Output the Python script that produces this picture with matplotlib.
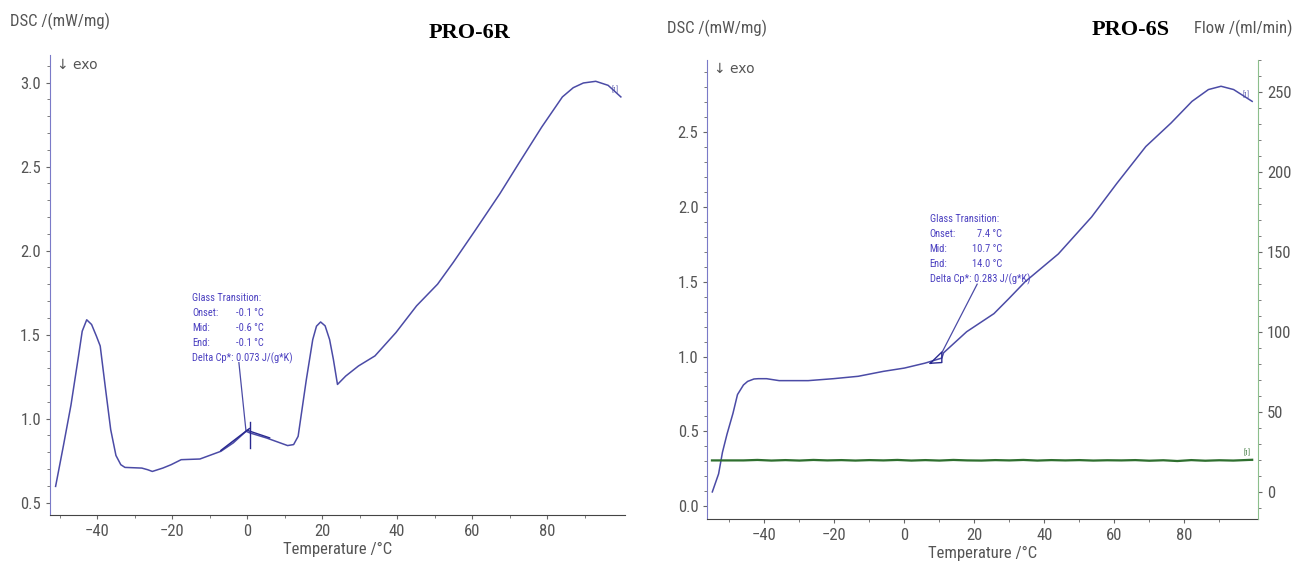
import numpy as np
import matplotlib
matplotlib.use('Agg')
import matplotlib.pyplot as plt
from matplotlib.ticker import FixedLocator, MultipleLocator
from matplotlib import font_manager

# pick a narrow sans font if one is installed
names = set(f.name for f in font_manager.fontManager.ttflist)
narrow = None
stretch = 'normal'
for cand in ['Liberation Sans Narrow', 'Roboto Condensed', 'Open Sans Condensed',
             'Noto Sans Condensed', 'DejaVu Sans Condensed']:
    if cand in names:
        narrow = cand
        break
if narrow is None:
    for f in font_manager.fontManager.ttflist:
        if f.name == 'DejaVu Sans' and 'condensed' in str(f.stretch):
            narrow = 'DejaVu Sans'
            stretch = 'condensed'
            break
if narrow is None:
    narrow = 'Liberation Sans'
plt.rcParams['font.family'] = [narrow, 'Liberation Sans', 'DejaVu Sans']
plt.rcParams['font.stretch'] = stretch
fs = 12 if narrow != 'Liberation Sans' else 11

# PRO-6R DSC curve (temperature degC, DSC mW/mg)
temp_6r = [-51.1, -49.0, -47.0, -45.0, -44.0, -42.8, -41.5, -40.2, -39.2, -37.8, -36.4,
           -35.0, -33.7, -32.6, -28.1, -26.5, -25.3, -22.5, -20.3, -17.6, -12.6,
           -7.0, -3.7, -0.3, 0.8, 5.2, 10.8, 12.4, 13.6, 15.8, 17.5, 18.5, 19.6,
           20.8, 22.0, 23.0, 24.1, 26.3, 29.7, 34.1, 39.7, 45.2, 50.8, 55.0, 60.8,
           67.4, 72.4, 78.6, 84.1, 87.0, 89.7, 93.0, 96.3, 99.7]
dsc_6r = [0.596, 0.84, 1.08, 1.37, 1.52, 1.588, 1.56, 1.49, 1.432, 1.18, 0.934,
          0.78, 0.725, 0.709, 0.705, 0.695, 0.685, 0.705, 0.725, 0.755, 0.759,
          0.805, 0.855, 0.924, 0.914, 0.884, 0.839, 0.845, 0.894, 1.233, 1.47, 1.55,
          1.575, 1.552, 1.47, 1.353, 1.203, 1.253, 1.313, 1.373, 1.512, 1.671, 1.80,
          1.93, 2.119, 2.338, 2.517, 2.736, 2.915, 2.97, 2.998, 3.008, 2.984, 2.915]

# PRO-6S DSC curve
temp_6s = [-54.9, -53.1, -52.0, -50.7, -49.0, -47.7, -46.0, -44.8, -43.0, -41.8,
           -39.4, -35.8, -27.5, -20.3, -13.2, -6.0, 0.0, 5.9, 10.7, 11.2, 17.8,
           25.6, 29.8, 34.5, 44.0, 53.5, 60.7, 69.0, 76.2, 82.2, 86.9, 90.5, 94.1,
           99.4]
dsc_6s = [0.095, 0.216, 0.36, 0.481, 0.62, 0.746, 0.81, 0.834, 0.85, 0.852,
          0.852, 0.839, 0.839, 0.852, 0.868, 0.901, 0.923, 0.956, 0.99, 1.025, 1.166,
          1.287, 1.386, 1.50, 1.686, 1.933, 2.157, 2.404, 2.561, 2.706, 2.785, 2.807,
          2.785, 2.706]

# PRO-6S purge gas flow (ml/min)
temp_flow = [-55, -46, -42, -38, -34, -30, -26, -22, -18, -14, -10, -6, -2, 2, 6, 10,
             14, 18, 22, 26, 30, 34, 38, 42, 46, 50, 54, 58, 62, 66, 70, 74, 78,
             82, 86, 90, 94, 99.4]
flow = [20.0, 20.0, 20.3, 19.9, 20.2, 19.9, 20.3, 20.0, 20.2, 19.9, 20.2, 20.0, 20.3,
        19.9, 20.2, 19.9, 20.3, 20.0, 19.9, 20.2, 20.0, 20.3, 19.9, 20.2, 20.0, 20.2,
        19.9, 20.1, 20.0, 20.2, 19.8, 20.1, 19.6, 20.2, 19.8, 20.1, 19.9, 20.4]

tg_labels = ['Glass Transition:', 'Onset:', 'Mid:', 'End:', 'Delta Cp*:']
tg_6r_vals = ['', '-0.1 \u00b0C', '-0.6 \u00b0C', '-0.1 \u00b0C', '0.073 J/(g*K)']
tg_6s_vals = ['', '7.4 \u00b0C', '10.7 \u00b0C', '14.0 \u00b0C', '0.283 J/(g*K)']

x_major = [-40, -20, 0, 20, 40, 60, 80]
x_minor = [-50, -30, -10, 10, 30, 50, 70, 90]

line_col = '#4b4ba6'
spine_col = '#7a7ac8'
label_col = '#555555'
text_col = '#4a3fc0'
green = '#2f6f2f'


def style_axis(ax):
    for s in ['top', 'right']:
        ax.spines[s].set_visible(False)
    ax.spines['left'].set_color(spine_col)
    ax.spines['bottom'].set_color('#444444')
    ax.xaxis.set_major_locator(FixedLocator(x_major))
    ax.xaxis.set_minor_locator(FixedLocator(x_minor))
    ax.yaxis.set_major_locator(MultipleLocator(0.5))
    ax.yaxis.set_minor_locator(MultipleLocator(0.1))
    ax.tick_params(axis='both', which='major', length=3, labelsize=fs,
                   labelcolor=label_col, color='#666666')
    ax.tick_params(axis='both', which='minor', length=2, color='#666666')
    ax.set_xlabel('Temperature /\u00b0C', fontsize=fs, color=label_col, labelpad=2)
    ax.text(0.012, 0.995, '\u2193 exo', transform=ax.transAxes, fontsize=10,
            color=label_col, va='top', family=['DejaVu Sans'])


fig = plt.figure(figsize=(12.98, 5.64), dpi=100)
ax1 = fig.add_axes([0.0385, 0.087, 0.443, 0.815])
ax2 = fig.add_axes([0.545, 0.079, 0.424, 0.815])

# ---- PRO-6R ----
ax1.plot(temp_6r, dsc_6r, color=line_col, lw=1.1)
ax1.set_xlim(-52.6, 100.8)
ax1.set_ylim(0.426, 3.163)
style_axis(ax1)
ax1.plot([-2.2, -0.3], [1.333, 0.924], color=line_col, lw=0.9)
ax1.plot([-7.0, 0.6], [0.81, 0.94], color='#2a2a90', lw=1.1)
ax1.plot([0.0, 6.0], [0.93, 0.885], color='#2a2a90', lw=1.0)
ax1.plot([0.8, 0.8], [0.822, 0.978], color='#2a2a90', lw=1.0)
ax1.text(99.0, 2.93, '[1]', fontsize=5, color=line_col, ha='right', va='bottom')

step1 = (3.163 - 0.426) / 460.0 * 15
y = 1.75
for i in range(len(tg_labels)):
    ax1.text(-14.6, y, tg_labels[i], fontsize=7.5, color=text_col, va='top')
    ax1.text(-2.9, y, tg_6r_vals[i], fontsize=7.5, color=text_col, va='top')
    y -= step1

fig.text(0.0075, 0.962, 'DSC /(mW/mg)', fontsize=fs, color=label_col, va='center')
fig.text(0.362, 0.942, 'PRO-6R', fontsize=16, fontweight='bold',
         family=['Liberation Serif'], va='center', ha='center')

# ---- PRO-6S ----
ax2.plot(temp_6s, dsc_6s, color=line_col, lw=1.1)
ax2.set_xlim(-56.3, 101.0)
ax2.set_ylim(-0.089, 2.984)
style_axis(ax2)
ax2.plot([10.8, 20.8], [1.03, 1.484], color=line_col, lw=0.9)
ax2.plot([7.4, 10.7, 10.7, 7.4], [0.955, 1.03, 0.96, 0.955], color='#2a2a90', lw=1.0)
ax2.text(98.5, 2.72, '[1]', fontsize=5, color=line_col, ha='right', va='bottom')
step2 = (2.984 + 0.089) / 459.0 * 15
y = 1.955
for i in range(len(tg_labels)):
    ax2.text(7.2, y, tg_labels[i], fontsize=7.5, color=text_col, va='top')
    if i < 4:
        ax2.text(27.9, y, tg_6s_vals[i], fontsize=7.5, color=text_col, va='top',
                 ha='right')
    else:
        ax2.text(19.8, y, tg_6s_vals[i], fontsize=7.5, color=text_col, va='top')
    y -= step2

ax3 = ax2.twinx()
ax3.plot([-55, 99.4], [20, 20], color='#7fb87f', lw=0.8)
ax3.plot(temp_flow, flow, color=green, lw=1.6)
ax3.set_ylim(-16.9, 270.4)
ax3.yaxis.set_major_locator(MultipleLocator(50))
ax3.yaxis.set_minor_locator(MultipleLocator(10))
for s in ['top', 'left', 'bottom']:
    ax3.spines[s].set_visible(False)
ax3.spines['right'].set_color('#8cbf8c')
ax3.tick_params(axis='y', which='major', length=3, labelsize=fs,
                labelcolor=label_col, color='#666666')
ax3.tick_params(axis='y', which='minor', length=2, color='#666666')
ax3.text(98.8, 22, '[1]', fontsize=5, color=green, ha='right', va='bottom')

fig.text(0.514, 0.950, 'DSC /(mW/mg)', fontsize=fs, color=label_col, va='center')
fig.text(0.996, 0.950, 'Flow /(ml/min)', fontsize=fs, color=label_col, va='center',
         ha='right')
fig.text(0.871, 0.947, 'PRO-6S', fontsize=16, fontweight='bold',
         family=['Liberation Serif'], va='center', ha='center')

fig.savefig('out.png', dpi=100)
